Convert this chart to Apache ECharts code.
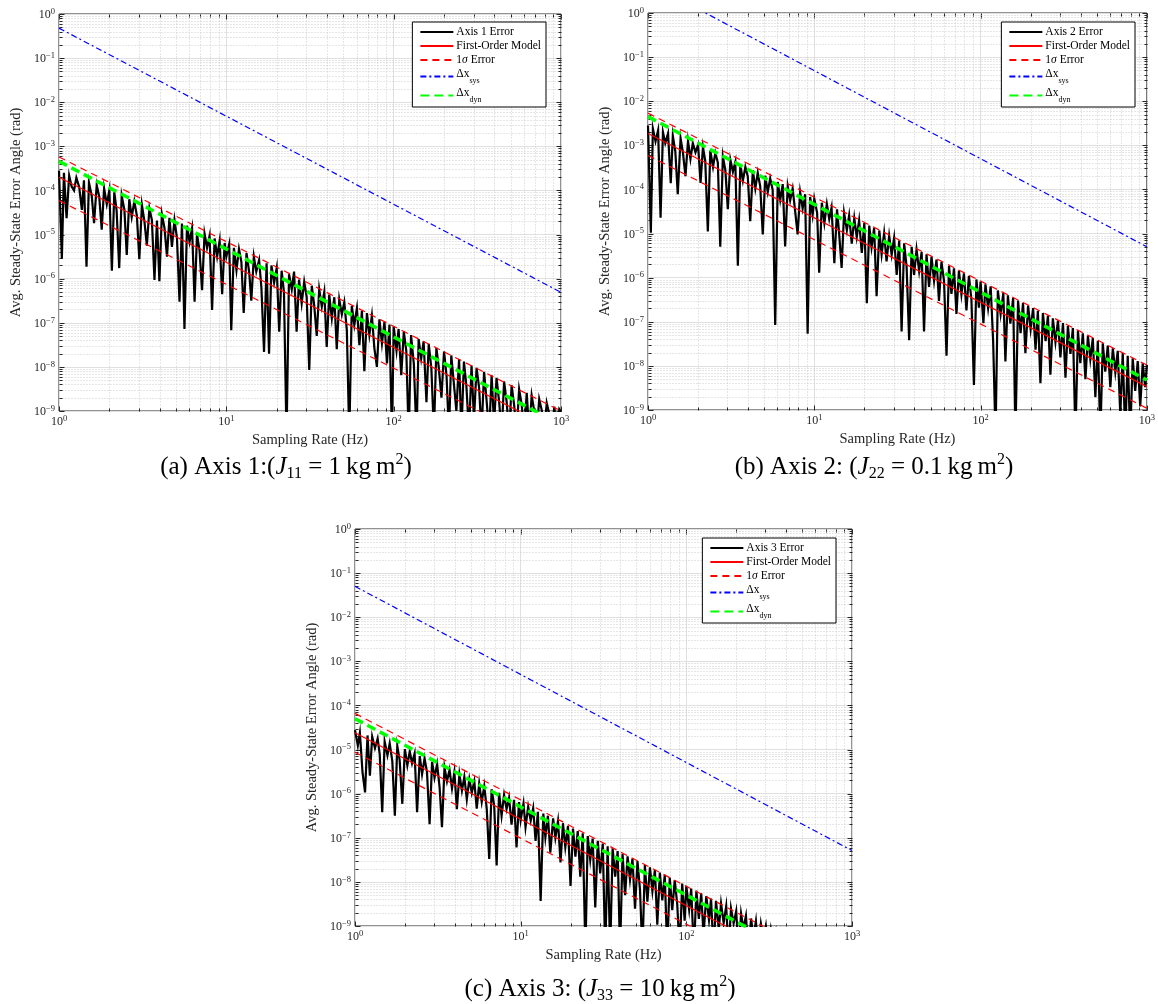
<!DOCTYPE html>
<html><head><meta charset="utf-8">
<script src="https://cdn.jsdelivr.net/npm/echarts/dist/echarts.min.js"></script>
<style>html,body{margin:0;padding:0;background:#fff;}#c{width:1158px;height:1004px;}</style>
</head><body><div id="c"></div>
<script>
// ---------------- DATA ----------------
// sampling rates (Hz), shared by the three measured error curves
const sampleRates = [1.00,1.04,1.07,1.11,1.15,1.19,1.23,1.27,1.32,1.37,1.41,1.46,1.51,1.57,1.62,1.68,1.74,1.80,1.86,1.93,2.00,2.07,2.14,2.21,2.29,2.37,2.46,2.54,2.63,2.72,2.82,2.92,3.02,3.13,3.24,3.35,3.47,3.59,3.72,3.85,3.98,4.12,4.27,4.42,4.57,4.73,4.90,5.07,5.25,5.43,5.62,5.82,6.03,6.24,6.46,6.68,6.92,7.16,7.41,7.67,7.94,8.22,8.51,8.81,9.12,9.44,9.77,
10.0,10.4,10.7,11.1,11.5,11.9,12.3,12.7,13.2,13.7,14.1,14.6,15.1,15.7,16.2,16.8,17.4,18.0,18.6,19.3,20.0,20.7,21.4,22.1,22.9,23.7,24.6,25.4,26.3,27.2,28.2,29.2,30.2,31.3,32.4,33.5,34.7,35.9,37.2,38.5,39.8,41.2,42.7,44.2,45.7,47.3,49.0,50.7,52.5,54.3,56.2,58.2,60.3,62.4,64.6,66.8,69.2,71.6,74.1,76.7,79.4,82.2,85.1,88.1,91.2,94.4,97.7,
100,104,107,111,115,119,123,127,132,137,141,146,151,157,162,168,174,180,186,193,200,207,214,221,229,237,246,254,263,272,282,292,302,313,324,335,347,359,372,385,398,412,427,442,457,473,490,507,525,543,562,582,603,624,646,668,692,716,741,767,794,822,851,881,912,944,977,1000];

// measured error, log10(rad)
const axis1ErrExp = [-3.55,-5.55,-3.60,-4.63,-3.66,-3.91,-4.00,-3.71,-3.92,-4.44,
-3.77,-5.73,-3.82,-4.13,-4.74,-3.88,-4.14,-4.89,-3.95,-4.31,
-3.99,-5.82,-4.04,-4.46,-5.76,-4.12,-4.44,-5.46,-4.20,-4.60,
-4.25,-4.57,-5.56,-4.33,-4.70,-5.25,-4.41,-4.67,-6.03,-4.68,
-6.06,-4.54,-4.85,-5.50,-4.62,-5.28,-4.67,-5.08,-6.52,-4.75,
-7.14,-4.80,-5.17,-4.86,-6.52,-4.99,-5.37,-6.26,-4.98,-5.30,
-5.03,-6.71,-5.09,-5.50,-5.14,-6.35,-5.19,
-5.50,-5.22,-7.17,-5.30,-5.81,-5.33,-5.62,-6.78,-5.42,-5.86,
-6.50,-5.50,-5.84,-5.58,-6.20,-7.66,-5.65,-7.70,-5.70,-6.09,
-5.76,-7.20,-5.82,-6.31,-9.60,-5.90,-6.24,-5.84,-7.20,-6.02,
-6.56,-6.07,-6.41,-8.07,-6.16,-6.60,-7.30,-6.24,-6.63,-6.30,
-7.55,-6.36,-6.90,-6.42,-7.60,-6.47,-6.81,-6.53,-7.17,-9.60,
-6.62,-7.05,-6.67,-7.51,-6.73,-8.10,-6.78,-7.27,-6.84,-7.58,
-8.00,-6.92,-7.47,-6.98,-7.92,-7.04,-9.60,
-7.08,-7.63,-7.14,-8.19,-7.20,-7.64,-9.60,-7.28,-7.93,-9.60,
-7.37,-7.81,-7.42,-8.80,-7.48,-8.03,-9.50,-7.57,-8.01,-8.70,
-7.65,-8.20,-9.50,-7.74,-8.38,-9.00,-7.82,-9.50,-7.88,-8.43,
-9.50,-7.97,-9.20,-8.02,-8.47,-9.50,-8.11,-8.75,-9.50,-8.19,
-9.30,-8.25,-8.80,-9.50,-8.33,-8.78,-9.50,-8.42,-8.87,-9.50,
-8.51,-8.85,-9.50,-8.59,-9.50,-8.65,-9.00,-9.50,-8.73,-8.98,
-9.50,-8.82,-9.07,-9.50,-8.90,-9.50,-8.96,-9.02];

const axis2ErrExp = [-2.55,-4.98,-2.62,-2.91,-2.66,-4.64,-2.70,-2.95,-2.73,-3.86,
-2.78,-3.14,-4.11,-2.84,-3.15,-3.70,-2.90,-3.31,-2.95,-3.16,
-2.99,-3.85,-3.04,-3.36,-4.95,-3.12,-3.49,-3.17,-3.39,-5.30,
-3.25,-3.57,-4.45,-3.33,-3.60,-3.38,-5.73,-3.43,-3.80,-3.49,
-3.70,-4.72,-3.56,-3.98,-3.62,-3.93,-5.02,-3.69,-4.06,-3.75,
-4.01,-7.07,-3.83,-4.24,-3.88,-5.29,-3.93,-4.25,-3.98,-4.49,
-5.02,-4.06,-4.43,-4.11,-7.27,-4.17,-4.58,
-4.21,-4.53,-5.89,-4.30,-4.76,-4.33,-4.67,-4.41,-5.67,-4.45,
-4.99,-5.78,-4.53,-4.92,-4.59,-5.23,-4.65,-5.08,-4.70,-5.44,
-4.76,-6.58,-4.82,-5.31,-4.87,-6.42,-4.93,-5.47,-4.99,-5.63,
-5.05,-5.48,-5.10,-5.94,-5.16,-7.22,-5.22,-5.75,-7.42,-5.30,
-5.94,-5.36,-5.85,-5.42,-7.22,-5.47,-6.21,-5.53,-6.07,-5.59,
-6.53,-5.64,-6.08,-7.77,-5.73,-6.37,-5.79,-6.82,-5.84,-6.38,
-5.90,-6.74,-5.96,-6.50,-8.43,-6.04,-6.68,
-6.09,-7.03,-6.15,-6.69,-6.20,-7.44,-9.60,-6.29,-6.83,-6.35,
-7.90,-6.40,-7.04,-6.46,-9.60,-6.52,-7.26,-6.57,-7.71,-6.63,
-7.17,-6.69,-7.63,-6.75,-8.39,-6.80,-7.44,-6.86,-8.20,-6.92,
-7.46,-6.97,-7.81,-7.03,-8.27,-7.09,-7.73,-7.14,-9.60,-7.20,
-7.94,-7.26,-8.30,-7.32,-7.85,-7.37,-8.71,-7.43,-9.60,-7.49,
-8.13,-7.54,-8.48,-7.60,-8.14,-7.66,-9.10,-7.71,-9.60,-7.77,
-9.60,-7.83,-8.57,-7.89,-8.92,-7.94,-8.48,-7.98];

const axis3ErrExp = [-4.56,-4.91,-4.62,-5.51,-5.97,-4.68,-5.59,-4.71,-4.97,-4.75,
-5.11,-6.42,-4.82,-5.13,-4.86,-5.27,-6.50,-4.92,-5.24,-6.23,
-4.99,-5.36,-5.04,-5.31,-5.09,-6.42,-5.15,-5.56,-5.20,-5.51,
-6.69,-5.28,-5.64,-5.33,-5.85,-6.76,-5.41,-5.72,-5.46,-5.88,
-5.51,-6.35,-5.56,-5.93,-5.62,-6.13,-5.67,-5.98,-5.72,-6.34,
-5.77,-6.19,-5.83,-6.34,-7.48,-5.90,-6.27,-7.63,-5.98,-6.50,
-6.03,-6.35,-6.09,-6.70,-6.14,-7.22,-6.19,
-6.60,-6.22,-6.76,-6.30,-6.61,-6.33,-7.07,-6.41,-8.43,-6.45,
-6.99,-6.50,-7.34,-6.56,-7.00,-6.62,-7.56,-6.67,-7.21,-6.73,
-8.09,-6.79,-7.43,-6.85,-7.88,-6.90,-9.60,-6.96,-7.50,-7.02,
-8.58,-7.07,-7.81,-7.13,-9.60,-7.19,-9.60,-7.24,-7.88,-7.30,
-9.60,-7.36,-8.30,-7.42,-7.95,-7.47,-8.61,-7.53,-8.17,-9.60,
-7.62,-8.45,-7.67,-8.21,-7.73,-8.97,-7.79,-8.42,-7.84,-9.60,
-7.90,-8.64,-7.96,-8.50,-9.60,-8.04,-8.88,
-8.09,-8.63,-8.15,-9.60,-8.20,-8.84,-8.26,-9.20,-8.32,-8.86,
-8.38,-9.60,-8.43,-9.07,-8.49,-8.93,-8.55,-9.60,-8.60,-8.94,
-8.66,-9.60,-8.72,-9.06,-8.77,-9.60,-8.83,-9.27,-8.89,-9.60,
-8.95,-9.28,-9.00,-9.60,-9.08,-9.40,-9.13,-9.60,-9.18,-9.55,
-9.24,-9.70,-9.30,-9.62,-9.35,-9.80,-9.41,-9.70,-9.47,-9.90,
-9.53,-9.85,-9.58,-10.0,-9.64,-9.95,-9.70,-10.1,-9.75,-10.1,
-9.81,-10.2,-9.87,-10.2,-9.92,-10.3,-9.98,-10.0];

// straight model lines: value (log10 rad) at 1 Hz and at 1000 Hz
const modelRates = [1, 1000];
const axis1FirstOrderExp = [-3.70, -9.49];
const axis1SigmaUpperExp = [-3.24, -9.00];
const axis1SigmaLowerExp = [-4.23, -9.93];
const axis1SysExp        = [-0.32, -6.31];
const axis1DynExp        = [-3.34, -9.31];

const axis2FirstOrderExp = [-2.73, -8.47];
const axis2SigmaUpperExp = [-2.27, -7.98];
const axis2SigmaLowerExp = [-3.23, -8.96];
const axis2SysExp        = [0.69, -5.30];
const axis2DynExp        = [-2.35, -8.32];

const axis3FirstOrderExp = [-4.62, -10.50];
const axis3SigmaUpperExp = [-4.18, -10.06];
const axis3SigmaLowerExp = [-5.06, -10.91];
const axis3SysExp        = [-1.30, -7.29];
const axis3DynExp        = [-4.30, -10.30];

const errNames = ['Axis 1 Error', 'Axis 2 Error', 'Axis 3 Error'];
const xLabel = 'Sampling Rate (Hz)';
const yLabel = 'Avg. Steady-State Error Angle (rad)';

// ---------------- LAYOUT / STYLE ----------------
const SERIF = '"Liberation Serif","DejaVu Serif","Times New Roman",serif';
const TXT = '#262626';
const grids = [
  {left: 59, top: 14, width: 502, height: 397},
  {left: 648, top: 13, width: 502, height: 397},
  {left: 355, top: 529, width: 497, height: 397}
];
const legendPos = [
  {right: 612, top: 22},
  {right: 23, top: 22},
  {right: 322, top: 538}
];
const panels = [
  {err: axis1ErrExp, fo: axis1FirstOrderExp, up: axis1SigmaUpperExp, lo: axis1SigmaLowerExp, sys: axis1SysExp, dyn: axis1DynExp},
  {err: axis2ErrExp, fo: axis2FirstOrderExp, up: axis2SigmaUpperExp, lo: axis2SigmaLowerExp, sys: axis2SysExp, dyn: axis2DynExp},
  {err: axis3ErrExp, fo: axis3FirstOrderExp, up: axis3SigmaUpperExp, lo: axis3SigmaLowerExp, sys: axis3SysExp, dyn: axis3DynExp}
];

const pow10 = e => Math.pow(10, e);
const errData = arr => sampleRates.map((x, i) => arr[i] === undefined ? null : [x, pow10(arr[i])]).filter(Boolean);
const lineData = arr => modelRates.map((x, i) => [x, pow10(arr[i])]);

function expLabel(v) {
  const e = Math.round(Math.log10(v));
  return '{b|10}{s|' + (e < 0 ? '\u2212' + (-e) : String(e)) + '}';
}
const tickRich = {
  b: {fontFamily: SERIF, fontSize: 12, color: TXT, lineHeight: 14, verticalAlign: 'bottom'},
  s: {fontFamily: SERIF, fontSize: 8.5, color: TXT, lineHeight: 8, verticalAlign: 'top'}
};

function frameSeries(gi) {
  return {
    type: 'custom', xAxisIndex: gi, yAxisIndex: gi, z: 1, silent: true, clip: false,
    data: [[1, 1]],
    renderItem: function (params, api) {
      const ch = [];
      const bl = api.coord([1, 1e-9]), tr = api.coord([1000, 1]);
      const x0 = Math.round(bl[0]) + 0.5, y0 = Math.round(bl[1]) + 0.5;
      const x1 = Math.round(tr[0]) + 0.5, y1 = Math.round(tr[1]) + 0.5;
      const dot = {stroke: '#cdcdcd', lineWidth: 1, lineDash: [1, 2]};
      const tk = {stroke: TXT, lineWidth: 1};
      for (let d = 0; d <= 3; d++) {
        for (let m = 1; m <= 9; m++) {
          if (d === 3 && m > 1) break;
          const x = Math.round(api.coord([m * Math.pow(10, d), 1e-9])[0]) + 0.5;
          if (m > 1) ch.push({type: 'line', shape: {x1: x, y1: y1, x2: x, y2: y0}, style: dot});
          const L = m === 1 ? 5 : 3;
          ch.push({type: 'line', shape: {x1: x, y1: y0, x2: x, y2: y0 - L}, style: tk});
          ch.push({type: 'line', shape: {x1: x, y1: y1, x2: x, y2: y1 + L}, style: tk});
        }
      }
      for (let d = -9; d <= 0; d++) {
        for (let m = 1; m <= 9; m++) {
          if (d === 0 && m > 1) break;
          const y = Math.round(api.coord([1, m * Math.pow(10, d)])[1]) + 0.5;
          if (m > 1) ch.push({type: 'line', shape: {x1: x0, y1: y, x2: x1, y2: y}, style: dot});
          const L = m === 1 ? 5 : 3;
          ch.push({type: 'line', shape: {x1: x0, y1: y, x2: x0 + L, y2: y}, style: tk});
          ch.push({type: 'line', shape: {x1: x1, y1: y, x2: x1 - L, y2: y}, style: tk});
        }
      }
      return {type: 'group', children: ch};
    }
  };
}

const option = {
  animation: false,
  backgroundColor: '#fff',
  grid: grids.map(g => Object.assign({show: true, borderColor: TXT, borderWidth: 1, backgroundColor: '#fff', containLabel: false}, g)),
  xAxis: grids.map((g, i) => ({
    type: 'log', logBase: 10, gridIndex: i, min: 1, max: 1000,
    name: xLabel, nameLocation: 'middle', nameGap: 22,
    nameTextStyle: {fontFamily: SERIF, fontSize: 14.5, color: TXT},
    axisLine: {show: false}, axisTick: {show: false},
    axisLabel: {formatter: expLabel, rich: tickRich, margin: 3, showMinLabel: true, showMaxLabel: true},
    splitLine: {show: true, lineStyle: {color: '#e0e0e0', width: 1}}
  })),
  yAxis: grids.map((g, i) => ({
    type: 'log', logBase: 10, gridIndex: i, min: 1e-9, max: 1,
    name: yLabel, nameLocation: 'middle', nameGap: 35, nameRotate: 90,
    nameTextStyle: {fontFamily: SERIF, fontSize: 14.5, color: TXT},
    axisLine: {show: false}, axisTick: {show: false},
    axisLabel: {formatter: expLabel, rich: tickRich, margin: 4, showMinLabel: true, showMaxLabel: true},
    splitLine: {show: true, lineStyle: {color: '#e0e0e0', width: 1}}
  })),
  legend: panels.map((p, i) => Object.assign({
    orient: 'vertical',
    data: [errNames[i], 'First-Order Model', '1\u03c3 Error', '\u0394x_sys', '\u0394x_dyn'],
    backgroundColor: '#fff', borderColor: '#000', borderWidth: 1, borderRadius: 0,
    padding: [4, 5, 3, 7], itemGap: 2, itemWidth: 33, itemHeight: 12,
    itemStyle: {opacity: 0, borderWidth: 0},
    selectedMode: false,
    formatter: function (name) {
      if (name === '\u0394x_sys') return '{n|\u0394x}{s|sys}';
      if (name === '\u0394x_dyn') return '{n|\u0394x}{s|dyn}';
      if (name === '1\u03c3 Error') return '{n|1}{i|\u03c3}{n| Error}';
      return '{n|' + name + '}';
    },
    textStyle: {
      fontFamily: SERIF, fontSize: 11.5, color: '#000', padding: [0, 0, 0, -2],
      rich: {
        n: {fontFamily: SERIF, fontSize: 11.5, color: '#000', lineHeight: 12, verticalAlign: 'top'},
        i: {fontFamily: SERIF, fontSize: 11.5, fontStyle: 'italic', color: '#000', lineHeight: 12, verticalAlign: 'top'},
        s: {fontFamily: SERIF, fontSize: 8, color: '#000', lineHeight: 17, verticalAlign: 'bottom'}
      }
    }
  }, legendPos[i])),
  graphic: [
    {type: 'text', x: 286, y: 467, style: {text: '{t|(a) Axis 1:(}{j|J}{d|11}{t| = 1\u2009kg\u2009m}{u|2}{t|)}', align: 'center', verticalAlign: 'middle'}},
    {type: 'text', x: 874, y: 467, style: {text: '{t|(b) Axis 2: (}{j|J}{d|22}{t| = 0.1\u2009kg\u2009m}{u|2}{t|)}', align: 'center', verticalAlign: 'middle'}},
    {type: 'text', x: 600, y: 989, style: {text: '{t|(c) Axis 3: (}{j|J}{d|33}{t| = 10\u2009kg\u2009m}{u|2}{t|)}', align: 'center', verticalAlign: 'middle'}}
  ],
  series: []
};

const capRich = {
  t: {fontFamily: SERIF, fontSize: 25, fill: '#000', lineHeight: 30, verticalAlign: 'middle'},
  j: {fontFamily: SERIF, fontSize: 25, fontStyle: 'italic', fill: '#000', lineHeight: 30, verticalAlign: 'middle'},
  d: {fontFamily: SERIF, fontSize: 16, fill: '#000', lineHeight: 14, verticalAlign: 'bottom'},
  u: {fontFamily: SERIF, fontSize: 16, fill: '#000', lineHeight: 15, verticalAlign: 'top'}
};
option.graphic.forEach(g => { g.style.rich = capRich; });

panels.forEach((p, i) => {
  option.series.push(frameSeries(i));
  const base = {type: 'line', xAxisIndex: i, yAxisIndex: i, symbol: 'none', showSymbol: false, clip: true, silent: true, z: 3};
  option.series.push(Object.assign({}, base, {name: errNames[i], data: errData(p.err),
    lineStyle: {color: '#000', width: 2.2, join: 'miter'}, itemStyle: {color: '#000', opacity: 0}}));
  option.series.push(Object.assign({}, base, {name: 'First-Order Model', data: lineData(p.fo), z: 4,
    lineStyle: {color: '#ff0000', width: 1.2}, itemStyle: {color: '#ff0000', opacity: 0}}));
  option.series.push(Object.assign({}, base, {name: '1\u03c3 Error', data: lineData(p.up), z: 4,
    lineStyle: {color: '#ff0000', width: 1.2, type: [7, 5]}, itemStyle: {color: '#ff0000', opacity: 0}}));
  option.series.push(Object.assign({}, base, {name: '1\u03c3 Error', data: lineData(p.lo), z: 4,
    lineStyle: {color: '#ff0000', width: 1.2, type: [7, 5]}, itemStyle: {color: '#ff0000', opacity: 0}}));
  option.series.push(Object.assign({}, base, {name: '\u0394x_sys', data: lineData(p.sys), z: 4,
    lineStyle: {color: '#0000ff', width: 1.2, type: [6, 3, 2, 3]}, itemStyle: {color: '#0000ff', opacity: 0}}));
  option.series.push(Object.assign({}, base, {name: '\u0394x_dyn', data: lineData(p.dyn), z: 5,
    lineStyle: {color: '#00ff00', width: 3.5, type: [9, 5]}, itemStyle: {color: '#00ff00', opacity: 0}}));
});

const chart = echarts.init(document.getElementById('c'));
chart.setOption(option);
</script>
</body></html>
